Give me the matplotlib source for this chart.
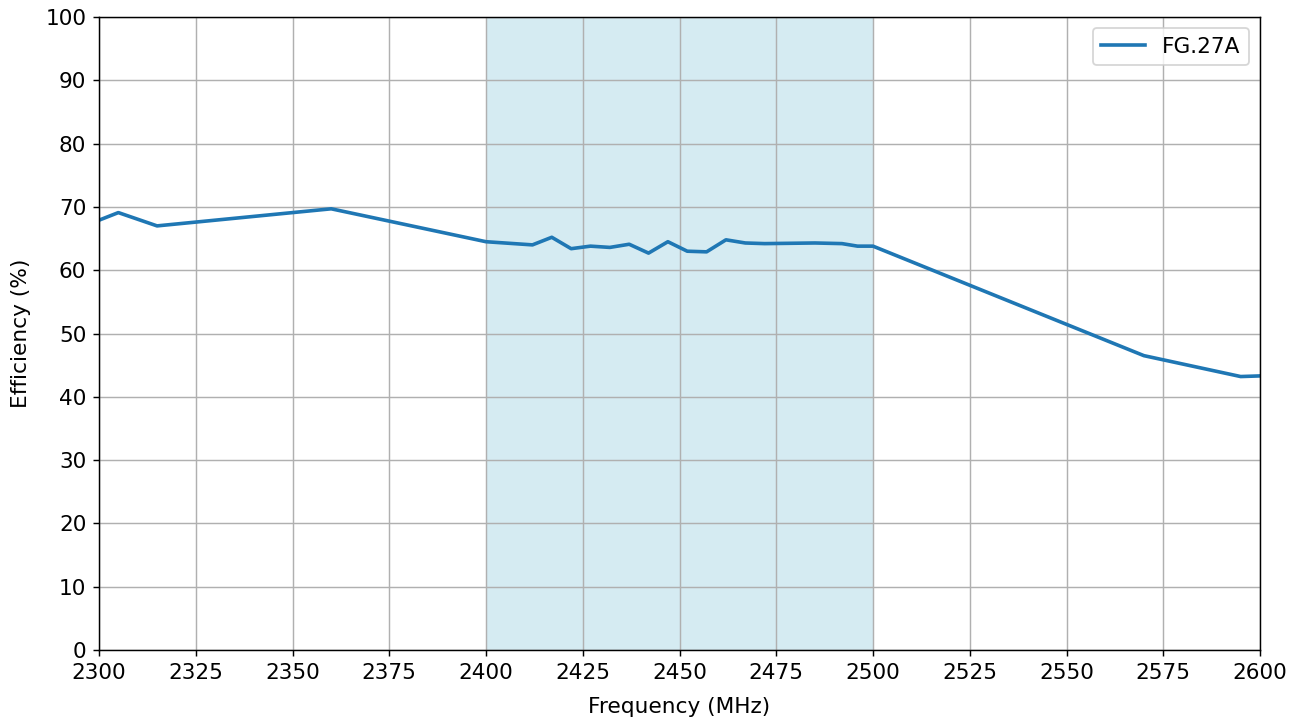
import matplotlib
matplotlib.use("Agg")
import matplotlib.pyplot as plt

freq = [2300, 2305, 2315, 2360, 2400, 2412, 2417, 2422, 2427, 2432, 2437, 2442,
        2447, 2452, 2457, 2462, 2467, 2472, 2485, 2492, 2496, 2500, 2570, 2595, 2600]
eff = [67.9, 69.1, 67.0, 69.7, 64.5, 64.0, 65.2, 63.4, 63.8, 63.6, 64.1, 62.7,
       64.5, 63.0, 62.9, 64.8, 64.3, 64.2, 64.3, 64.2, 63.8, 63.8, 46.5, 43.2, 43.3]
band = (2400, 2500)
label = "FG.27A"

DPI = 130
fig = plt.figure(figsize=(1302/DPI, 722/DPI), dpi=DPI)
ax = fig.add_axes([99/1302, 1 - 650/722, (1260-99)/1302, (650-17)/722])
ax.axvspan(band[0], band[1], color="lightblue", alpha=0.5, lw=0)
ax.plot(freq, eff, color="#1f77b4", lw=2, label=label)
ax.set_xlim(2300, 2600)
ax.set_ylim(0, 100)
ax.set_xticks(range(2300, 2601, 25))
ax.set_yticks(range(0, 101, 10))
ax.grid(True)
ax.tick_params(labelsize=12)
ax.set_xlabel("Frequency (MHz)", fontsize=12, labelpad=8)
ax.set_ylabel("Efficiency (%)", fontsize=12, labelpad=8)
ax.legend(loc="upper right", fontsize=12)
fig.savefig("out.png", dpi=DPI)
